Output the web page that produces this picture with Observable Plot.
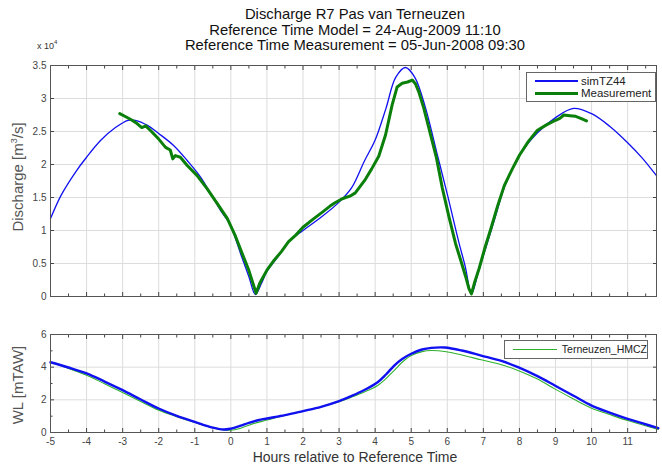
<!DOCTYPE html>
<html>
<head>
<meta charset="utf-8">
<script src="https://cdn.jsdelivr.net/npm/d3@7"></script>
<script src="https://cdn.jsdelivr.net/npm/@observablehq/plot@0.6"></script>
<style>
  html, body { margin: 0; padding: 0; background: #fff; }
  #wrap { position: relative; width: 662px; height: 466px; overflow: hidden; font-family: "Liberation Sans", Arial, sans-serif; color: #222; }
  .abs { position: absolute; }
  #title { left: 50px; width: 610px; top: 7px; text-align: center; font-size: 14.8px; line-height: 15.6px; color: #111; }
  .ylab { font-size: 15px; color: #555; white-space: nowrap; transform: translate(-50%, -50%) rotate(-90deg); }
  #xlab { left: 50px; width: 610px; top: 449px; text-align: center; font-size: 14px; color: #333; }
  .legend { background: #fff; border: 1px solid #666; color: #222; }
  .legend .row { display: flex; align-items: center; height: 12.5px; }
  .legend .sw { display: inline-block; margin-right: 3px; }
  #exp { left: 37px; top: 39px; font-size: 9px; color: #333; }
  #exp sup { font-size: 6px; vertical-align: 5px; }
</style>
</head>
<body>
<div id="wrap">
  <div id="p1" class="abs" style="left:0;top:0"></div>
  <div id="p2" class="abs" style="left:0;top:300px"></div>
  <div id="title" class="abs">Discharge R7 Pas van Terneuzen<br>Reference Time Model = 24-Aug-2009 11:10<br>Reference Time Measurement = 05-Jun-2008 09:30</div>
  <div id="exp" class="abs">x 10<sup>4</sup></div>
  <div class="abs ylab" style="left:17px;top:177px">Discharge [m<sup style="font-size:9px">3</sup>/s]</div>
  <div class="abs ylab" style="left:17px;top:385px">WL [mTAW]</div>
  <div id="xlab" class="abs">Hours relative to Reference Time</div>
  <div class="abs legend" style="left:526px;top:72px;width:128px;height:28px;font-size:11.5px">
    <div class="row" style="margin-top:1.5px"><span class="sw" style="margin-left:8px;width:43px;height:1.5px;background:#1010f0"></span>simTZ44</div>
    <div class="row"><span class="sw" style="margin-left:8px;width:43px;height:3px;background:#0a800a"></span>Measurement</div>
  </div>
  <div class="abs legend" style="left:504px;top:340px;width:142px;height:17px;font-size:10.5px">
    <div class="row" style="margin-top:2px"><span class="sw" style="margin-left:8px;width:44px;height:1px;background:#2fb02f;margin-right:5px"></span>Terneuzen_HMCZ</div>
  </div>
</div>
<script>
// ---- Discharge (m3/s) ----
const simHours = [-5, -4.7, -4.3, -4, -3.6, -3.2, -2.85, -2.65, -2.3, -2.0, -1.58, -1.21, -0.84, -0.56, -0.29, -0.1, 0, 0.3, 0.5, 0.68, 0.85, 1.0, 1.3, 1.6, 2.0, 2.5, 3.0, 3.35, 3.7, 4.0, 4.3, 4.57, 4.84, 5.1, 5.4, 5.7, 6.0, 6.33, 6.5, 6.67, 6.85, 7.0, 7.3, 7.6, 8.0, 8.5, 9.0, 9.5, 10.0, 10.5, 11.0, 11.4, 11.8];
const simQ = [11800, 15400, 18900, 21100, 23700, 25600, 26700, 26700, 25900, 24700, 22850, 20600, 18100, 15600, 13100, 11600, 10700, 6000, 3000, 300, 2000, 3800, 6000, 8300, 10000, 12000, 14300, 16500, 20500, 23700, 28500, 33200, 34700, 33200, 28500, 22000, 15500, 8000, 4500, 400, 3500, 6200, 11500, 16800, 21400, 24800, 27100, 28500, 27700, 25800, 23300, 21000, 18300];

const measHours = [-3.08, -2.9, -2.75, -2.6, -2.47, -2.36, -2.2, -2.0, -1.81, -1.68, -1.61, -1.54, -1.4, -1.21, -0.94, -0.66, -0.38, -0.1, 0.13, 0.35, 0.49, 0.6, 0.7, 0.8, 1.0, 1.2, 1.4, 1.6, 1.8, 2.0, 2.3, 2.53, 2.75, 2.9, 3.05, 3.18, 3.3, 3.45, 3.6, 3.73, 3.9, 4.1, 4.29, 4.47, 4.61, 4.75, 4.9, 5.03, 5.12, 5.21, 5.35, 5.49, 5.7, 5.86, 6.05, 6.23, 6.4, 6.51, 6.6, 6.67, 6.75, 6.88, 7.05, 7.21, 7.4, 7.58, 7.8, 8.0, 8.25, 8.5, 8.75, 9.0, 9.12, 9.23, 9.4, 9.56, 9.7, 9.86];
const measQ = [27700, 27200, 26750, 26200, 25600, 25850, 25000, 23850, 22600, 22200, 20850, 21350, 21100, 19850, 18350, 16350, 14100, 11850, 9100, 6000, 4100, 2200, 500, 2000, 4000, 5500, 6800, 8300, 9300, 10500, 11800, 12750, 13700, 14250, 14700, 15000, 15200, 15700, 16800, 17750, 19300, 21250, 24500, 29000, 31750, 32300, 32500, 32800, 32200, 31000, 28500, 25500, 21000, 16500, 12000, 8000, 5000, 3000, 1200, 400, 2000, 4200, 7500, 10300, 13800, 16800, 19300, 21400, 23500, 25200, 26000, 26700, 27000, 27500, 27400, 27300, 27000, 26600];

// ---- Water level (mTAW) ----
const wlHours = [-5, -4.5, -4, -3.5, -3, -2.5, -2, -1.5, -1, -0.5, -0.2, 0, 0.25, 0.5, 0.75, 1, 1.5, 2, 2.5, 3, 3.33, 3.7, 4.07, 4.3, 4.53, 4.75, 5, 5.3, 5.56, 5.93, 6.4, 6.94, 7.5, 7.96, 8.5, 8.98, 9.5, 10, 10.5, 11, 11.4, 11.85];
const simWL = [4.3, 3.98, 3.62, 3.12, 2.59, 2.02, 1.47, 1.02, 0.65, 0.3, 0.18, 0.24, 0.4, 0.59, 0.75, 0.86, 1.06, 1.31, 1.57, 1.92, 2.22, 2.6, 3.08, 3.55, 4.1, 4.5, 4.82, 5.08, 5.18, 5.2, 5.02, 4.71, 4.38, 4.0, 3.45, 2.88, 2.25, 1.65, 1.22, 0.84, 0.57, 0.27];
const obsWL = [4.3, 3.92, 3.51, 2.98, 2.45, 1.9, 1.37, 0.97, 0.61, 0.28, 0.16, 0.14, 0.25, 0.45, 0.62, 0.76, 1.06, 1.31, 1.57, 1.88, 2.15, 2.48, 2.88, 3.3, 3.8, 4.3, 4.71, 4.95, 5.02, 4.96, 4.75, 4.45, 4.15, 3.8, 3.27, 2.67, 2.05, 1.49, 1.1, 0.73, 0.48, 0.18];

// ---- ticks ----
const hourTicks = [-5, -4, -3, -2, -1, 0, 1, 2, 3, 4, 5, 6, 7, 8, 9, 10, 11];
const halfHourTicks = [-4.5, -3.5, -2.5, -1.5, -0.5, 0.5, 1.5, 2.5, 3.5, 4.5, 5.5, 6.5, 7.5, 8.5, 9.5, 10.5, 11.5];
const qTicks = [0, 0.5, 1, 1.5, 2, 2.5, 3, 3.5];
const wlTicks = [0, 2, 4, 6];
const wlMinorTicks = [1, 3, 5];
const xDomain = [-5, 11.8];

const sim = simHours.map((h, i) => ({h, q: simQ[i]}));
const meas = measHours.map((h, i) => ({h, q: measQ[i]}));
const wlSim = wlHours.map((h, i) => ({h, v: simWL[i]}));
const wlObs = wlHours.map((h, i) => ({h, v: obsWL[i]}));

const blank = () => "";
const gridCol = "#dcdcdc";
const axisCol = "#444";

const p1 = Plot.plot({
  width: 662, height: 310,
  marginTop: 65, marginBottom: 14, marginLeft: 50, marginRight: 6,
  style: {fontFamily: "Liberation Sans, Arial, sans-serif", fontSize: "10px", color: axisCol, background: "transparent"},
  x: {domain: xDomain},
  y: {domain: [0, 3.5]},
  marks: [
    Plot.gridX(hourTicks, {stroke: gridCol, strokeOpacity: 1}),
    Plot.gridY(qTicks, {stroke: gridCol, strokeOpacity: 1}),
    Plot.axisY(qTicks, {tickSize: -4, tickPadding: 8, tickFormat: d => String(d), label: null, stroke: axisCol}),
    Plot.axisY(qTicks, {anchor: "right", tickSize: -4, tickFormat: blank, label: null, stroke: axisCol}),
    Plot.axisX(hourTicks, {anchor: "bottom", tickSize: -4, tickFormat: blank, label: null, stroke: axisCol}),
    Plot.axisX(hourTicks, {anchor: "top", tickSize: -4, tickFormat: blank, label: null, stroke: axisCol}),
    Plot.axisX(halfHourTicks, {anchor: "bottom", tickSize: -2.5, tickFormat: blank, label: null, stroke: axisCol}),
    Plot.axisX(halfHourTicks, {anchor: "top", tickSize: -2.5, tickFormat: blank, label: null, stroke: axisCol}),
    Plot.line(sim, {x: "h", y: d => d.q / 1e4, stroke: "#1010f0", strokeWidth: 1.3, curve: "catmull-rom"}),
    Plot.line(meas, {x: "h", y: d => d.q / 1e4, stroke: "#0a800a", strokeWidth: 3, curve: "linear"}),
    Plot.frame({stroke: "#555"})
  ]
});
document.getElementById("p1").appendChild(p1);

const p2 = Plot.plot({
  width: 662, height: 166,
  marginTop: 34, marginBottom: 34, marginLeft: 50, marginRight: 6,
  style: {fontFamily: "Liberation Sans, Arial, sans-serif", fontSize: "10px", color: axisCol, background: "transparent"},
  x: {domain: xDomain},
  y: {domain: [0, 6]},
  marks: [
    Plot.gridX(hourTicks, {stroke: gridCol, strokeOpacity: 1}),
    Plot.gridY(wlTicks, {stroke: gridCol, strokeOpacity: 1}),
    Plot.axisY(wlTicks, {tickSize: -4, tickPadding: 8, tickFormat: d => String(d), label: null, stroke: axisCol}),
    Plot.axisY(wlMinorTicks, {tickSize: -2.5, tickFormat: blank, label: null, stroke: axisCol}),
    Plot.axisY(wlTicks, {anchor: "right", tickSize: -4, tickFormat: blank, label: null, stroke: axisCol}),
    Plot.axisX(hourTicks, {anchor: "bottom", tickSize: -4, tickPadding: 9, tickFormat: d => String(d), label: null, stroke: axisCol}),
    Plot.axisX(hourTicks, {anchor: "top", tickSize: -4, tickFormat: blank, label: null, stroke: axisCol}),
    Plot.axisX(halfHourTicks, {anchor: "bottom", tickSize: -2.5, tickFormat: blank, label: null, stroke: axisCol}),
    Plot.axisX(halfHourTicks, {anchor: "top", tickSize: -2.5, tickFormat: blank, label: null, stroke: axisCol}),
    Plot.line(wlObs, {x: "h", y: "v", stroke: "#2fb02f", strokeWidth: 1.1, curve: "catmull-rom"}),
    Plot.line(wlSim, {x: "h", y: "v", stroke: "#1010f0", strokeWidth: 2.4, curve: "catmull-rom"}),
    Plot.frame({stroke: "#555"})
  ]
});
document.getElementById("p2").appendChild(p2);
</script>
</body>
</html>
